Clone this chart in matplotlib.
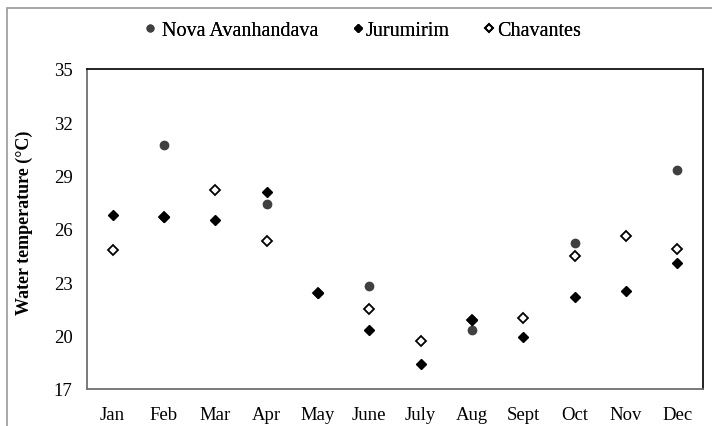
import numpy as np
import matplotlib
matplotlib.use("Agg")
import matplotlib.pyplot as plt
from matplotlib.patches import Rectangle

months = ["Jan", "Feb", "Mar", "Apr", "May", "June", "July", "Aug", "Sept", "Oct", "Nov", "Dec"]
nova = [np.nan, 30.7, np.nan, 27.4, np.nan, 22.8, np.nan, 20.3, np.nan, 25.2, np.nan, 29.3]
jurumirim = [26.8, 26.7, 26.5, 28.1, 22.4, 20.3, 18.4, 20.9, 19.9, 22.2, 22.5, 24.1]
chavantes = [24.8, 26.7, 28.2, 25.3, 22.4, 21.5, 19.7, 20.9, 21.0, 24.5, 25.6, 24.9]
yticks = [17, 20, 23, 26, 29, 32, 35]

plt.rcParams["font.family"] = ["Liberation Serif", "DejaVu Serif"]

fig = plt.figure(figsize=(7.12, 4.27), dpi=100)
ax = fig.add_axes([87 / 712, 1 - 390 / 427, 616 / 712, 320 / 427])

x = np.arange(1, len(months) + 1)
h_nova, = ax.plot(x, nova, linestyle="none", marker="o", markersize=6,
                  color="#404040", label="Nova Avanhandava")
h_jur, = ax.plot(x, jurumirim, linestyle="none", marker="D", markersize=5.2,
                 color="black", label="Jurumirim")
h_cha, = ax.plot(x, chavantes, linestyle="none", marker="D", markersize=5.0,
                 markerfacecolor="none", markeredgecolor="black",
                 markeredgewidth=1.3, label="Chavantes")

ax.set_xlim(0.5, 12.5)
ax.set_ylim(17, 35)
ax.set_xticks(x)
ax.set_xticklabels(months)
ax.set_yticks(yticks)
ax.tick_params(axis="both", length=0)
ax.tick_params(axis="x", pad=12.5, labelsize=13.5)
ax.tick_params(axis="y", pad=10.5, labelsize=13.5)

for side in ["left", "bottom"]:
    ax.spines[side].set_color("#707070")
    ax.spines[side].set_linewidth(1.3)
for side in ["top", "right"]:
    ax.spines[side].set_color("#111111")
    ax.spines[side].set_linewidth(1.3)

fig.text(24 / 712, 0.478, "Water temperature (°C)", rotation=90,
         ha="center", va="center", fontsize=13, fontweight="bold")

# legend entries placed one by one, like the spreadsheet layout
legend_y = 1 - 31 / 427
for handle, left, textpad in [(h_nova, 145, 0.35), (h_jur, 353, 0.12), (h_cha, 484, 0.16)]:
    leg = fig.legend(handles=[handle], loc="center left",
                     bbox_to_anchor=(left / 712, legend_y), frameon=False,
                     fontsize=14.5, markerscale=0.8, handlelength=0.5,
                     handletextpad=textpad, borderpad=0, borderaxespad=0)
    fig.add_artist(leg)

# outer chart border
fig.patches.append(Rectangle((7 / 712, -0.1), 1.2, 1 - 9 / 427 + 0.1,
                             transform=fig.transFigure, fill=False,
                             edgecolor="#9a9a9a", linewidth=1.2))

fig.savefig("out.png", dpi=100)
